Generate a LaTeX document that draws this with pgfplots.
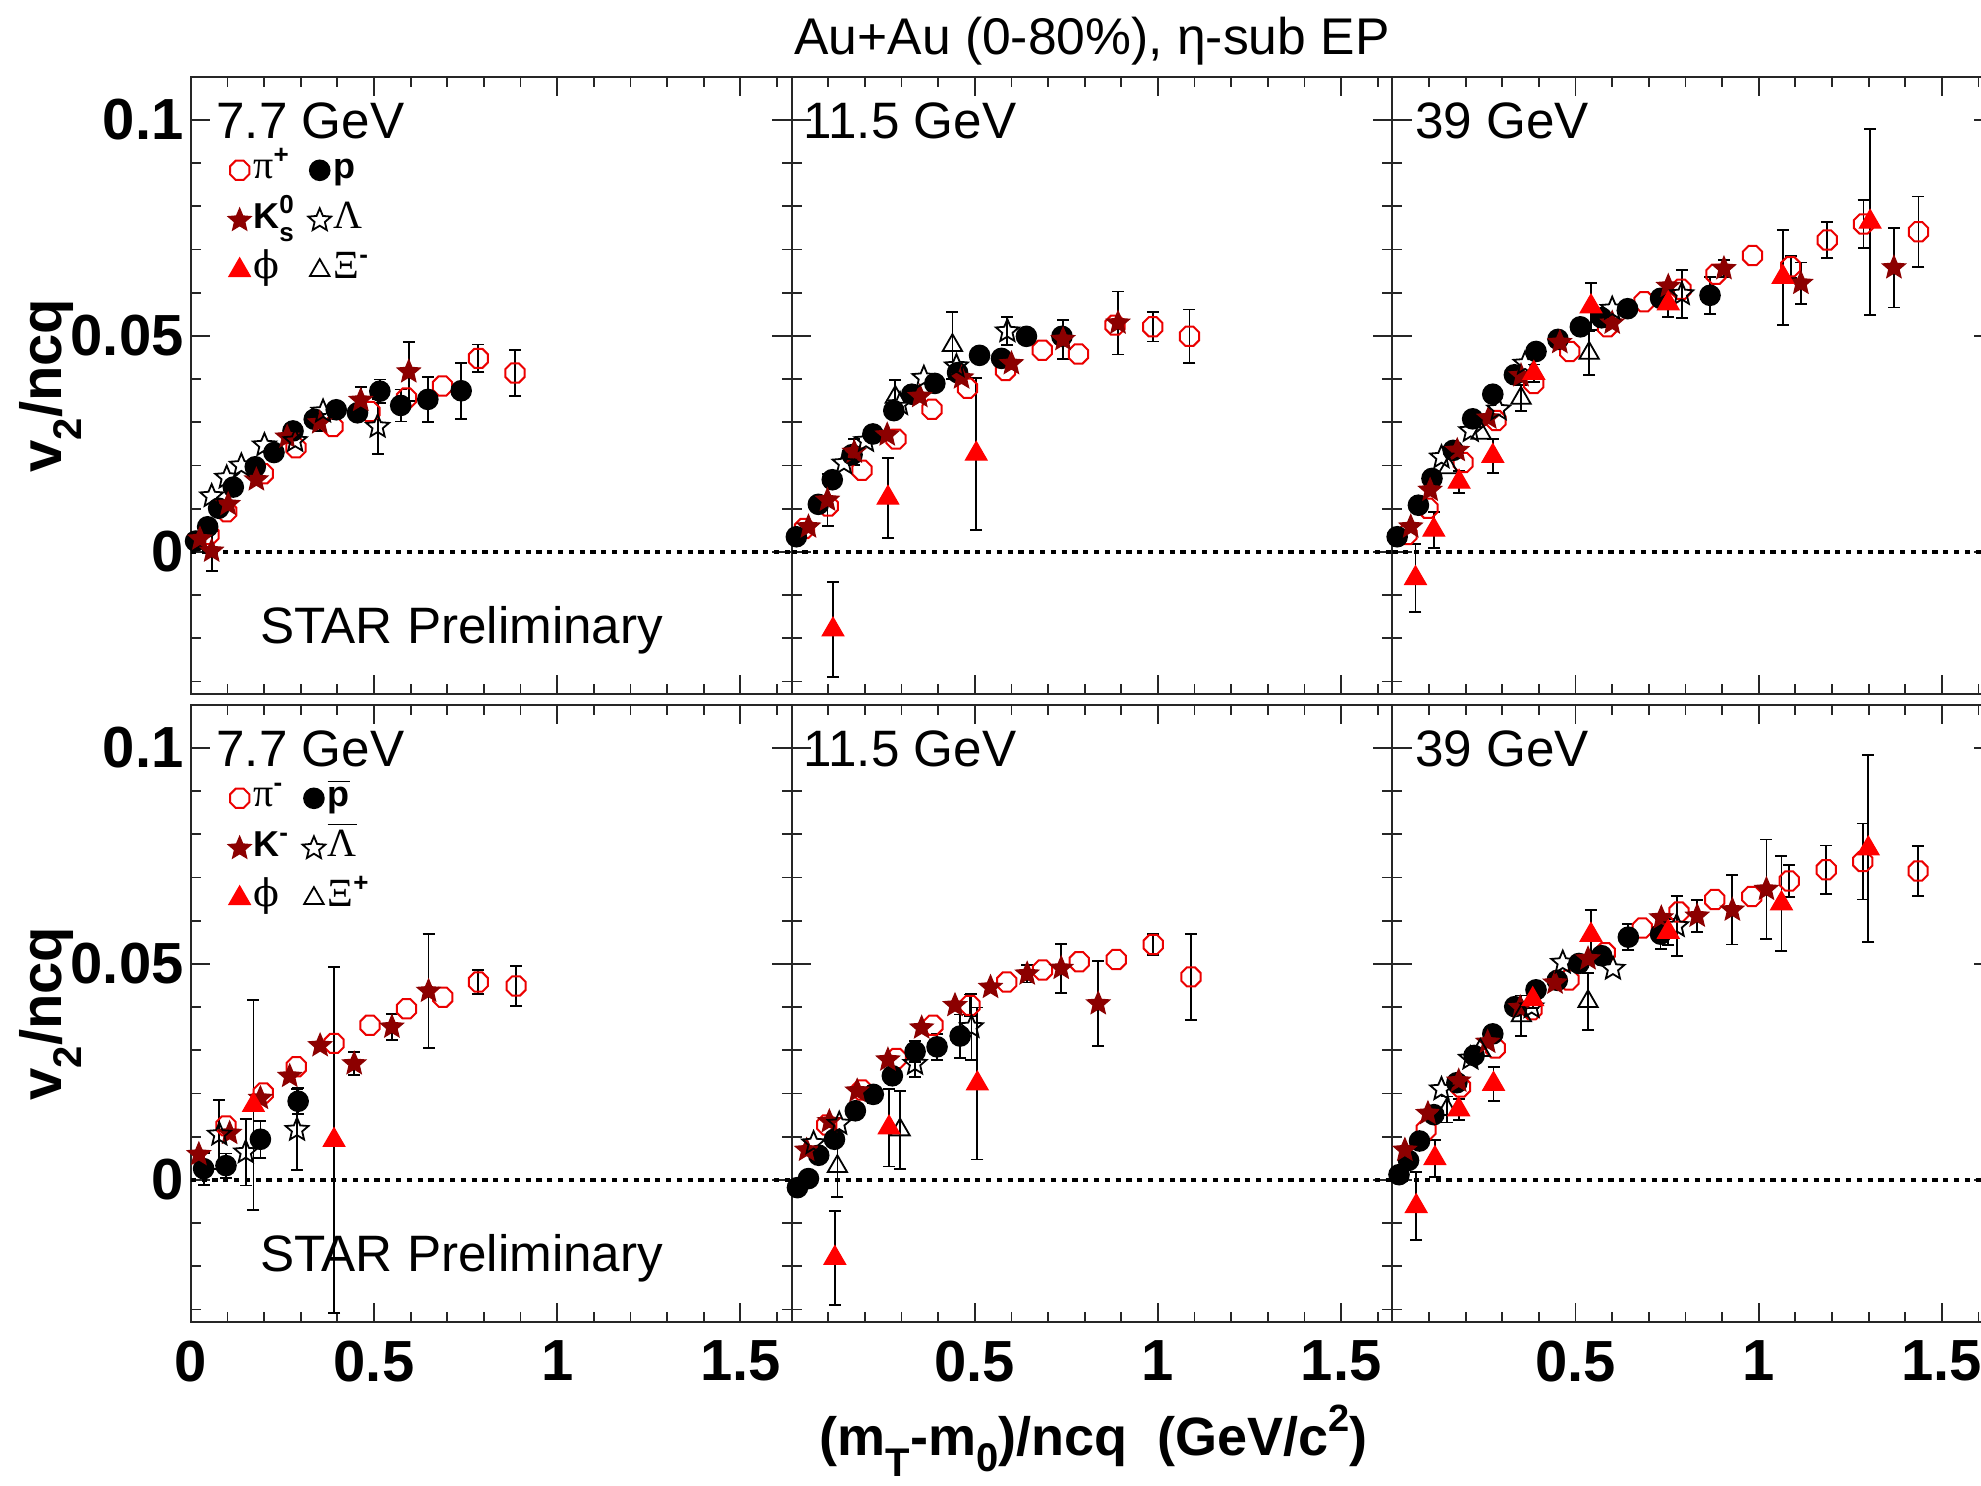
\documentclass[border=0pt]{standalone}
\usepackage{fontspec}
\setmainfont{Liberation Sans}
\newfontfamily\serif{Liberation Serif}
\newfontfamily\dserif{DejaVu Serif}
\usepackage{pgfplots}
\pgfplotsset{compat=1.18}

\definecolor{cred}{RGB}{235,0,0}
\definecolor{cdred}{RGB}{140,0,0}
\definecolor{cphi}{RGB}{255,0,0}

\pgfdeclareplotmark{oct}{%
  \pgfpathmoveto{\pgfpointpolar{22.5}{\pgfplotmarksize}}%
  \pgfpathlineto{\pgfpointpolar{67.5}{\pgfplotmarksize}}%
  \pgfpathlineto{\pgfpointpolar{112.5}{\pgfplotmarksize}}%
  \pgfpathlineto{\pgfpointpolar{157.5}{\pgfplotmarksize}}%
  \pgfpathlineto{\pgfpointpolar{202.5}{\pgfplotmarksize}}%
  \pgfpathlineto{\pgfpointpolar{247.5}{\pgfplotmarksize}}%
  \pgfpathlineto{\pgfpointpolar{292.5}{\pgfplotmarksize}}%
  \pgfpathlineto{\pgfpointpolar{337.5}{\pgfplotmarksize}}%
  \pgfpathclose\pgfusepathqstroke}
\def\starpath{%
  \pgfpathmoveto{\pgfpointpolar{90}{\pgfplotmarksize}}%
  \pgfpathlineto{\pgfpointpolar{126}{0.45\pgfplotmarksize}}%
  \pgfpathlineto{\pgfpointpolar{162}{\pgfplotmarksize}}%
  \pgfpathlineto{\pgfpointpolar{198}{0.45\pgfplotmarksize}}%
  \pgfpathlineto{\pgfpointpolar{234}{\pgfplotmarksize}}%
  \pgfpathlineto{\pgfpointpolar{270}{0.45\pgfplotmarksize}}%
  \pgfpathlineto{\pgfpointpolar{306}{\pgfplotmarksize}}%
  \pgfpathlineto{\pgfpointpolar{342}{0.45\pgfplotmarksize}}%
  \pgfpathlineto{\pgfpointpolar{18}{\pgfplotmarksize}}%
  \pgfpathlineto{\pgfpointpolar{54}{0.45\pgfplotmarksize}}%
  \pgfpathclose}
\pgfdeclareplotmark{fstar}{\starpath\pgfusepathqfillstroke}
\pgfdeclareplotmark{ostar}{\starpath\pgfusepathqstroke}

\tikzset{
  mpi/.style={mark=oct, mark size=2.6pt, draw=cred, mark options={draw=cred, line width=0.5pt, fill=none}},
  mp/.style={mark=*, mark size=2.5pt, draw=black, fill=black, mark options={draw=black, fill=black}},
  mk/.style={mark=fstar, mark size=3.0pt, draw=cdred, fill=cdred, mark options={draw=cdred, fill=cdred, line width=0.3pt}},
  ml/.style={mark=ostar, mark size=3.0pt, draw=black, mark options={draw=black, line width=0.45pt}},
  mphi/.style={mark=triangle*, mark size=3.1pt, draw=cphi, fill=cphi, mark options={draw=cphi, fill=cphi, line width=0.3pt}},
  mxi/.style={mark=triangle, mark size=2.8pt, draw=black, mark options={draw=black, line width=0.45pt}},
}

\newcommand{\tickf}{\fontsize{14.5}{16}\selectfont\bfseries}
\newcommand{\panf}{\fontsize{12.8}{14}\selectfont}
\newcommand{\legf}{\fontsize{9}{10}\selectfont}
\newcommand{\smallsup}[1]{\raisebox{0.42em}{\fontsize{6.5}{7}\selectfont\bfseries #1}}
\newcommand{\smallsub}[1]{\raisebox{-0.35em}{\fontsize{6.5}{7}\selectfont\bfseries #1}}

\pgfplotsset{
  panel/.style={
    scale only axis, width=150.2pt, height=154.4pt, anchor=south west,
    xmin=0, xmax=1.64, ymin=-0.033, ymax=0.110,
    xtick={0,0.5,1,1.5}, ytick={0,0.05,0.1},
    minor xtick={0.1,0.2,0.3,0.4,0.6,0.7,0.8,0.9,1.1,1.2,1.3,1.4,1.6},
    minor ytick={-0.03,-0.02,-0.01,0.01,0.02,0.03,0.04,0.06,0.07,0.08,0.09},
    xticklabels={}, yticklabels={},
    tick align=inside, tick pos=both,
    major tick length=4.8pt, minor tick length=2.5pt,
    axis line style={black!85, line width=0.5pt},
    every tick/.append style={black!85, line width=0.45pt},
    xticklabel style={font=\tickf, inner sep=0pt, yshift=-4.4pt},
    yticklabel style={font=\tickf, inner sep=0pt, xshift=-1.6pt},
  },
  leg/.style={
    legend columns=2, legend cell align=left,
    legend image code/.code={\draw[##1] plot coordinates {(0pt,0pt)};},
    legend style={draw=none, fill=none, at={(axis cs:0.10,0.0933)}, anchor=north west,
      inner sep=0pt, row sep=2.2pt, font=\legf,
      nodes={inner sep=0.6pt, text height=6.6pt, text depth=2.5pt},
      /tikz/every even column/.append style={column sep=3pt}},
  },
  zline/.style={black, line width=0.9pt, dash pattern=on 1.3pt off 1.4pt, forget plot},
  ebar/.style={draw=none, forget plot,
    error bars/y dir=both, error bars/y explicit,
    error bars/error bar style={draw=black, line width=0.45pt, solid},
    error bars/error mark options={draw=black, line width=0.45pt, mark size=1.5pt, rotate=90}},
}

\begin{document}
\begin{tikzpicture}

%================ TOP LEFT: 7.7 GeV, positive
\begin{axis}[panel, at={(47.7pt,197.9pt)}, yticklabels={0,0.05,0.1}, leg]
\addlegendimage{only marks, mpi}\addlegendentry{{\serif\fontsize{10}{10}\selectfont π}\smallsup{+}}
\addlegendimage{only marks, mp}\addlegendentry{\textbf{p}}
\addlegendimage{only marks, mk}\addlegendentry{\textbf{K}\rlap{\smallsup{0}}\smallsub{s}}
\addlegendimage{only marks, ml}\addlegendentry{{\serif\fontsize{10}{10}\selectfont Λ}}
\addlegendimage{only marks, mphi}\addlegendentry{{\dserif\fontsize{9.5}{10}\selectfont ϕ}}
\addlegendimage{only marks, mxi}\addlegendentry{{\serif\fontsize{10}{10}\selectfont Ξ}\smallsup{-}}
\addplot[zline] coordinates {(0,0) (1.64,0)};
\addplot[ebar] coordinates {
 (0.785,0.0448) +- (0,0.0032) (0.885,0.0414) +- (0,0.0053)
 (0.516,0.0372) +- (0,0.0027) (0.573,0.0339) +- (0,0.0037) (0.647,0.0353) +- (0,0.0052) (0.738,0.0373) +- (0,0.0065)
 (0.057,0.0002) +- (0,0.0047) (0.352,0.0299) +- (0,0.0020) (0.464,0.0351) +- (0,0.0030) (0.595,0.0417) +- (0,0.0068)
 (0.510,0.0290) +- (0,0.0063)};
\addplot[only marks, mpi, forget plot] coordinates {(0.050,0.0040) (0.098,0.0093) (0.198,0.0181) (0.287,0.0241) (0.388,0.0290) (0.489,0.0325) (0.589,0.0356) (0.687,0.0384) (0.785,0.0448) (0.885,0.0414)};
\addplot[only marks, mp, forget plot] coordinates {(0.013,0.0025) (0.046,0.0058) (0.076,0.0101) (0.116,0.0150) (0.176,0.0197) (0.227,0.0230) (0.279,0.0280) (0.337,0.0307) (0.397,0.0329) (0.455,0.0322) (0.516,0.0372) (0.573,0.0339) (0.647,0.0353) (0.738,0.0373)};
\addplot[only marks, mk, forget plot] coordinates {(0.025,0.0030) (0.057,0.0002) (0.102,0.0110) (0.179,0.0167) (0.263,0.0266) (0.352,0.0299) (0.464,0.0351) (0.595,0.0417)};
\addplot[only marks, ml, forget plot] coordinates {(0.057,0.0129) (0.098,0.0172) (0.138,0.0200) (0.201,0.0247) (0.285,0.0257) (0.361,0.0325) (0.510,0.0290)};
\node[anchor=base west, inner sep=0pt, font=\panf] at (axis cs:0.068,0.0956) {7.7 GeV};
\node[anchor=base west, inner sep=0pt, font=\panf] at (axis cs:0.187,-0.0213) {STAR Preliminary};
\end{axis}

%================ TOP MIDDLE: 11.5 GeV
\begin{axis}[panel, at={(197.9pt,197.9pt)}]
\addplot[zline] coordinates {(0,0) (1.64,0)};
\addplot[ebar] coordinates {
 (0.986,0.0521) +- (0,0.0034) (1.086,0.0499) +- (0,0.0062)
 (0.098,0.0120) +- (0,0.0060) (0.171,0.0231) +- (0,0.0030) (0.741,0.0492) +- (0,0.0045) (0.891,0.0530) +- (0,0.0073)
 (0.589,0.0511) +- (0,0.0032)
 (0.283,0.0358) +- (0,0.0040) (0.439,0.0478) +- (0,0.0078)
 (0.113,-0.0180) +- (0,0.0110) (0.263,0.0125) +- (0,0.0093) (0.504,0.0227) +- (0,0.0176)};
\addplot[only marks, mpi, forget plot] coordinates {(0.035,0.0054) (0.100,0.0106) (0.192,0.0189) (0.285,0.0261) (0.383,0.0330) (0.480,0.0379) (0.584,0.0420) (0.684,0.0467) (0.783,0.0458) (0.883,0.0525) (0.986,0.0521) (1.086,0.0499)};
\addplot[only marks, mp, forget plot] coordinates {(0.013,0.0035) (0.073,0.0110) (0.111,0.0167) (0.165,0.0225) (0.222,0.0273) (0.279,0.0327) (0.328,0.0365) (0.391,0.0390) (0.453,0.0415) (0.513,0.0455) (0.573,0.0448) (0.641,0.0499) (0.738,0.0499)};
\addplot[only marks, mk, forget plot] coordinates {(0.046,0.0058) (0.098,0.0120) (0.171,0.0231) (0.261,0.0271) (0.350,0.0360) (0.464,0.0403) (0.600,0.0436) (0.741,0.0492) (0.891,0.0530)};
\addplot[only marks, ml, forget plot] coordinates {(0.143,0.0205) (0.203,0.0257) (0.296,0.0342) (0.361,0.0403) (0.450,0.0430) (0.589,0.0511)};
\addplot[only marks, mxi, forget plot] coordinates {(0.283,0.0358) (0.439,0.0478)};
\addplot[only marks, mphi, forget plot] coordinates {(0.113,-0.0180) (0.263,0.0125) (0.504,0.0227)};
\node[anchor=base west, inner sep=0pt, font=\panf] at (axis cs:0.031,0.0956) {11.5 GeV};
\end{axis}

%================ TOP RIGHT: 39 GeV
\begin{axis}[panel, at={(348.1pt,197.9pt)}]
\addplot[zline] coordinates {(0,0) (1.64,0)};
\addplot[ebar] coordinates {
 (1.087,0.0660) +- (0,0.0025) (1.187,0.0722) +- (0,0.0041) (1.286,0.0759) +- (0,0.0056) (1.436,0.0741) +- (0,0.0082)
 (0.867,0.0594) +- (0,0.0043)
 (0.905,0.0656) +- (0,0.0020) (1.115,0.0622) +- (0,0.0048) (1.369,0.0658) +- (0,0.0092)
 (0.790,0.0597) +- (0,0.0055)
 (0.351,0.0356) +- (0,0.0030) (0.537,0.0460) +- (0,0.0050)
 (0.063,-0.0061) +- (0,0.0079) (0.113,0.0051) +- (0,0.0042) (0.182,0.0162) +- (0,0.0025) (0.274,0.0222) +- (0,0.0040)
 (0.386,0.0414) +- (0,0.0020) (0.542,0.0568) +- (0,0.0054) (0.753,0.0575) +- (0,0.0032) (1.066,0.0636) +- (0,0.0110) (1.304,0.0764) +- (0,0.0216)};
\addplot[only marks, mpi, forget plot] coordinates {(0.040,0.0040) (0.097,0.0101) (0.193,0.0207) (0.283,0.0304) (0.386,0.0390) (0.484,0.0464) (0.587,0.0521) (0.687,0.0579) (0.788,0.0608) (0.883,0.0643) (0.983,0.0686) (1.087,0.0660) (1.187,0.0722) (1.286,0.0759) (1.436,0.0741)};
\addplot[only marks, mp, forget plot] coordinates {(0.013,0.0035) (0.071,0.0108) (0.108,0.0170) (0.166,0.0235) (0.219,0.0308) (0.274,0.0365) (0.333,0.0410) (0.392,0.0464) (0.452,0.0492) (0.513,0.0521) (0.571,0.0542) (0.642,0.0563) (0.732,0.0587) (0.867,0.0594)};
\addplot[only marks, mk, forget plot] coordinates {(0.050,0.0058) (0.103,0.0143) (0.177,0.0235) (0.263,0.0310) (0.351,0.0408) (0.457,0.0485) (0.600,0.0530) (0.753,0.0615) (0.905,0.0656) (1.115,0.0622) (1.369,0.0658)};
\addplot[only marks, ml, forget plot] coordinates {(0.134,0.0219) (0.214,0.0280) (0.290,0.0330) (0.362,0.0436) (0.600,0.0563) (0.790,0.0597)};
\addplot[only marks, mxi, forget plot] coordinates {(0.153,0.0195) (0.242,0.0275) (0.351,0.0356) (0.537,0.0460)};
\addplot[only marks, mphi, forget plot] coordinates {(0.063,-0.0061) (0.113,0.0051) (0.182,0.0162) (0.274,0.0222) (0.386,0.0414) (0.542,0.0568) (0.753,0.0575) (1.066,0.0636) (1.304,0.0764)};
\node[anchor=base west, inner sep=0pt, font=\panf] at (axis cs:0.060,0.0956) {39 GeV};
\end{axis}

%================ BOTTOM LEFT: 7.7 GeV, negative
\begin{axis}[panel, at={(47.7pt,40.9pt)}, yticklabels={0,0.05,0.1}, xticklabels={0,0.5,1,1.5}, leg]
\addlegendimage{only marks, mpi}\addlegendentry{{\serif\fontsize{10}{10}\selectfont π}\smallsup{-}}
\addlegendimage{only marks, mp}\addlegendentry{$\overline{\mbox{\bfseries p}}$}
\addlegendimage{only marks, mk}\addlegendentry{\textbf{K}\smallsup{-}}
\addlegendimage{only marks, ml}\addlegendentry{$\overline{\mbox{\serif\fontsize{10}{10}\selectfont Λ}}$}
\addlegendimage{only marks, mphi}\addlegendentry{{\dserif\fontsize{9.5}{10}\selectfont ϕ}}
\addlegendimage{only marks, mxi}\addlegendentry{{\serif\fontsize{10}{10}\selectfont Ξ}\smallsup{+}}
\addplot[zline] coordinates {(0,0) (1.64,0)};
\addplot[ebar] coordinates {
 (0.785,0.0458) +- (0,0.0028) (0.888,0.0449) +- (0,0.0046)
 (0.035,0.0026) +- (0,0.0037) (0.096,0.0033) +- (0,0.0028) (0.190,0.0094) +- (0,0.0043) (0.293,0.0182) +- (0,0.0030)
 (0.446,0.0269) +- (0,0.0027) (0.549,0.0354) +- (0,0.0030) (0.649,0.0437) +- (0,0.0132)
 (0.078,0.0105) +- (0,0.0080) (0.150,0.0064) +- (0,0.0077) (0.290,0.0116) +- (0,0.0094)
 (0.171,0.0173) +- (0,0.0243) (0.391,0.0092) +- (0,0.0400)};
\addplot[only marks, mpi, forget plot] coordinates {(0.096,0.0125) (0.198,0.0201) (0.288,0.0262) (0.391,0.0316) (0.489,0.0358) (0.589,0.0396) (0.688,0.0423) (0.785,0.0458) (0.888,0.0449)};
\addplot[only marks, mp, forget plot] coordinates {(0.035,0.0026) (0.096,0.0033) (0.190,0.0094) (0.293,0.0182)};
\addplot[only marks, mk, forget plot] coordinates {(0.022,0.0059) (0.106,0.0108) (0.190,0.0189) (0.270,0.0240) (0.353,0.0311) (0.446,0.0269) (0.549,0.0354) (0.649,0.0437)};
\addplot[only marks, ml, forget plot] coordinates {(0.078,0.0105) (0.150,0.0064) (0.290,0.0116)};
\addplot[only marks, mphi, forget plot] coordinates {(0.171,0.0173) (0.391,0.0092)};
\node[anchor=base west, inner sep=0pt, font=\panf] at (axis cs:0.068,0.0956) {7.7 GeV};
\node[anchor=base west, inner sep=0pt, font=\panf] at (axis cs:0.187,-0.0213) {STAR Preliminary};
\end{axis}

%================ BOTTOM MIDDLE: 11.5 GeV
\begin{axis}[panel, at={(197.9pt,40.9pt)}, xticklabels={,0.5,1,1.5}]
\addplot[zline] coordinates {(0,0) (1.64,0)};
\addplot[ebar] coordinates {
 (0.487,0.0404) +- (0,0.0025) (0.987,0.0545) +- (0,0.0025) (1.090,0.0470) +- (0,0.0099)
 (0.223,0.0198) +- (0,0.0020) (0.337,0.0297) +- (0,0.0025) (0.397,0.0308) +- (0,0.0030) (0.460,0.0333) +- (0,0.0050)
 (0.643,0.0477) +- (0,0.0020) (0.736,0.0490) +- (0,0.0057) (0.837,0.0408) +- (0,0.0098)
 (0.337,0.0269) +- (0,0.0030) (0.491,0.0354) +- (0,0.0077)
 (0.125,0.0031) +- (0,0.0070) (0.296,0.0116) +- (0,0.0090)
 (0.118,-0.0181) +- (0,0.0109) (0.266,0.0121) +- (0,0.0090) (0.507,0.0223) +- (0,0.0176)};
\addplot[only marks, mpi, forget plot] coordinates {(0.096,0.0127) (0.192,0.0208) (0.286,0.0281) (0.386,0.0358) (0.487,0.0404) (0.587,0.0458) (0.685,0.0486) (0.785,0.0505) (0.886,0.0510) (0.987,0.0545) (1.090,0.0470)};
\addplot[only marks, mp, forget plot] coordinates {(0.016,-0.0018) (0.046,0.0003) (0.074,0.0057) (0.117,0.0094) (0.174,0.0160) (0.223,0.0198) (0.275,0.0241) (0.337,0.0297) (0.397,0.0308) (0.460,0.0333)};
\addplot[only marks, mk, forget plot] coordinates {(0.041,0.0069) (0.103,0.0135) (0.179,0.0206) (0.263,0.0278) (0.355,0.0352) (0.446,0.0404) (0.543,0.0446) (0.643,0.0477) (0.736,0.0490) (0.837,0.0408)};
\addplot[only marks, ml, forget plot] coordinates {(0.060,0.0085) (0.130,0.0130) (0.337,0.0269) (0.491,0.0354)};
\addplot[only marks, mxi, forget plot] coordinates {(0.125,0.0031) (0.296,0.0116)};
\addplot[only marks, mphi, forget plot] coordinates {(0.118,-0.0181) (0.266,0.0121) (0.507,0.0223)};
\node[anchor=base west, inner sep=0pt, font=\panf] at (axis cs:0.031,0.0956) {11.5 GeV};
\end{axis}

%================ BOTTOM RIGHT: 39 GeV
\begin{axis}[panel, at={(348.1pt,40.9pt)}, xticklabels={,0.5,1,1.5}]
\addplot[zline] coordinates {(0,0) (1.64,0)};
\addplot[ebar] coordinates {
 (1.083,0.0692) +- (0,0.0037) (1.184,0.0718) +- (0,0.0056) (1.284,0.0737) +- (0,0.0088) (1.435,0.0715) +- (0,0.0058)
 (0.644,0.0562) +- (0,0.0030) (0.732,0.0569) +- (0,0.0035)
 (0.832,0.0611) +- (0,0.0037) (0.928,0.0625) +- (0,0.0080) (1.021,0.0673) +- (0,0.0115)
 (0.776,0.0588) +- (0,0.0070)
 (0.149,0.0163) +- (0,0.0030) (0.352,0.0380) +- (0,0.0047) (0.534,0.0413) +- (0,0.0066)
 (0.065,-0.0061) +- (0,0.0079) (0.116,0.0050) +- (0,0.0043) (0.181,0.0163) +- (0,0.0025) (0.276,0.0222) +- (0,0.0040)
 (0.383,0.0418) +- (0,0.0020) (0.542,0.0567) +- (0,0.0057) (0.753,0.0574) +- (0,0.0030) (1.062,0.0640) +- (0,0.0110) (1.299,0.0767) +- (0,0.0217)};
\addplot[only marks, mpi, forget plot] coordinates {(0.092,0.0116) (0.186,0.0215) (0.281,0.0305) (0.381,0.0394) (0.482,0.0463) (0.581,0.0526) (0.682,0.0583) (0.782,0.0620) (0.880,0.0649) (0.981,0.0656) (1.083,0.0692) (1.184,0.0718) (1.284,0.0737) (1.435,0.0715)};
\addplot[only marks, mp, forget plot] coordinates {(0.018,0.0012) (0.044,0.0045) (0.074,0.0090) (0.113,0.0151) (0.176,0.0225) (0.223,0.0288) (0.274,0.0338) (0.334,0.0401) (0.392,0.0440) (0.450,0.0462) (0.509,0.0501) (0.571,0.0519) (0.644,0.0562) (0.732,0.0569)};
\addplot[only marks, mk, forget plot] coordinates {(0.034,0.0069) (0.097,0.0154) (0.181,0.0229) (0.260,0.0319) (0.349,0.0399) (0.444,0.0456) (0.534,0.0512) (0.734,0.0607) (0.832,0.0611) (0.928,0.0625) (1.021,0.0673)};
\addplot[only marks, ml, forget plot] coordinates {(0.134,0.0210) (0.213,0.0281) (0.380,0.0400) (0.465,0.0503) (0.602,0.0489) (0.776,0.0588)};
\addplot[only marks, mxi, forget plot] coordinates {(0.149,0.0163) (0.240,0.0300) (0.352,0.0380) (0.534,0.0413)};
\addplot[only marks, mphi, forget plot] coordinates {(0.065,-0.0061) (0.116,0.0050) (0.181,0.0163) (0.276,0.0222) (0.383,0.0418) (0.542,0.0567) (0.753,0.0574) (1.062,0.0640) (1.299,0.0767)};
\node[anchor=base west, inner sep=0pt, font=\panf] at (axis cs:0.060,0.0956) {39 GeV};
\end{axis}

% titles and axis labels
\node[anchor=base, inner sep=0pt, font=\fontsize{12.9}{14}\selectfont] at (273pt,357.9pt) {Au+Au (0-80\%), η-sub EP};
\node[anchor=base, inner sep=0pt, font=\fontsize{13.5}{15}\selectfont\bfseries] at (273.4pt,7.6pt)
  {(m\raisebox{-0.38em}{\fontsize{10}{10}\selectfont T}-m\raisebox{-0.3em}{\fontsize{10}{10}\selectfont 0})/ncq\ \ (GeV/c\raisebox{0.45em}{\fontsize{9.5}{10}\selectfont 2})};
\node[rotate=90, anchor=base, inner sep=0pt, font=\fontsize{14.5}{16}\selectfont\bfseries] at (15.4pt,275.1pt)
  {v\raisebox{-0.35em}{\fontsize{10}{10}\selectfont 2}/ncq};
\node[rotate=90, anchor=base, inner sep=0pt, font=\fontsize{14.5}{16}\selectfont\bfseries] at (15.4pt,118.1pt)
  {v\raisebox{-0.35em}{\fontsize{10}{10}\selectfont 2}/ncq};

\pgfresetboundingbox
\path[use as bounding box] (0pt,0pt) rectangle (495.25pt,371.5pt);
\end{tikzpicture}
\end{document}
